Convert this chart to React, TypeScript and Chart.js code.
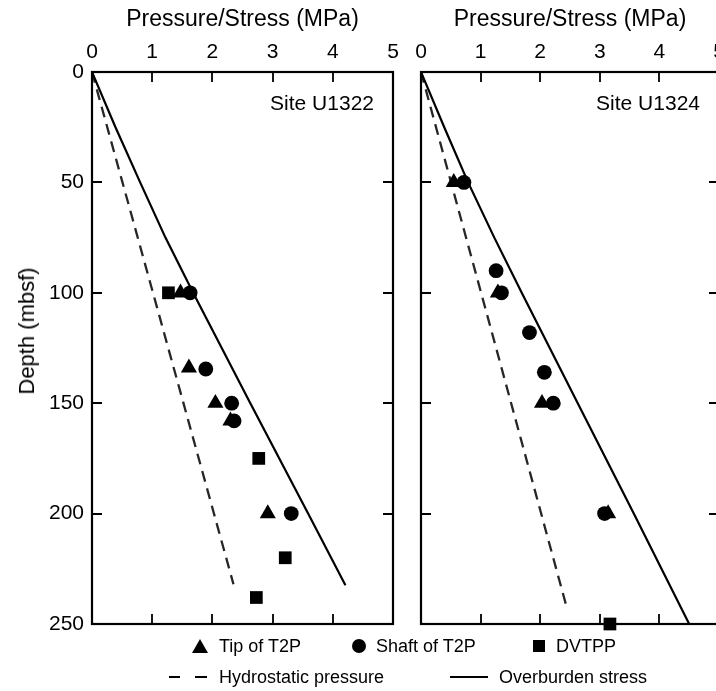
import React, { useEffect, useRef } from 'react';
import { Chart, registerables } from 'chart.js';

Chart.register(...registerables);

const FONT = '"Liberation Sans", Arial, Helvetica, sans-serif';

const pressureRange = [0, 5];
const depthRange = [0, 250];
const pressureStep = 1;
const depthStep = 50;
const xTitle = 'Pressure/Stress (MPa)';
const yTitle = 'Depth (mbsf)';

// Site U1322
const u1322TipPressure = [1.47, 1.61, 2.05, 2.3, 2.92];
const u1322TipDepth = [100, 134, 150, 158, 200];
const u1322ShaftPressure = [1.63, 1.89, 2.32, 2.36, 3.31];
const u1322ShaftDepth = [100, 134.5, 150, 158, 200];
const u1322DvtppPressure = [1.27, 2.77, 3.21, 2.73];
const u1322DvtppDepth = [100, 175, 220, 238];
const u1322HydroPressure = [0, 2.35];
const u1322HydroDepth = [0, 232];
const u1322OverPressure = [0, 0.39, 0.8, 1.22, 1.68, 2.63, 3.59, 4.21];
const u1322OverDepth = [0, 25, 50, 75, 100, 150, 200, 232.5];

// Site U1324
const u1324TipPressure = [0.55, 1.29, 2.03, 3.14];
const u1324TipDepth = [50, 100, 150, 200];
const u1324ShaftPressure = [0.72, 1.26, 1.35, 1.82, 2.07, 2.22, 3.08];
const u1324ShaftDepth = [50, 90, 100, 118, 136, 150, 200];
const u1324DvtppPressure = [3.17];
const u1324DvtppDepth = [250];
const u1324HydroPressure = [0, 2.45];
const u1324HydroDepth = [0, 243];
const u1324OverPressure = [0, 0.39, 0.79, 1.23, 1.69, 2.63, 3.57, 4.5];
const u1324OverDepth = [0, 25, 50, 75, 100, 150, 200, 250];

const legendLabels = ['Tip of T2P', 'Shaft of T2P', 'DVTPP', 'Hydrostatic pressure', 'Overburden stress'];

const toPoints = (xs: number[], ys: number[]) => xs.map((x, i) => ({ x, y: ys[i] }));

function markerSet(label: string, style: string, radius: number, xs: number[], ys: number[]) {
  return {
    label,
    data: toPoints(xs, ys),
    pointStyle: style,
    pointRadius: radius,
    pointHoverRadius: radius,
    backgroundColor: '#000',
    borderColor: '#000',
    borderWidth: 0,
    pointBorderWidth: 0,
    showLine: false,
    clip: false,
  };
}

function lineSet(label: string, xs: number[], ys: number[], dash: number[] | null) {
  return {
    label,
    data: toPoints(xs, ys),
    showLine: true,
    pointRadius: 0,
    pointHoverRadius: 0,
    borderColor: dash ? '#262626' : '#000',
    borderWidth: dash ? 2.3 : 2.2,
    borderDash: dash || [],
    borderJoinStyle: 'round',
    tension: 0,
    fill: false,
  };
}

// Box around the plot area, inward tick marks on all four sides and the site name.
const framePlugin = {
  id: 'frame',
  afterDraw(chart: any, _args: any, opts: any) {
    const { ctx, chartArea, scales } = chart;
    const { left, right, top, bottom } = chartArea;
    ctx.save();
    ctx.strokeStyle = '#000';
    ctx.lineWidth = 2.2;
    ctx.strokeRect(left, top, right - left, bottom - top);
    ctx.lineWidth = 1.8;
    ctx.beginPath();
    for (const t of scales.x.ticks) {
      const px = Math.round(scales.x.getPixelForValue(t.value));
      ctx.moveTo(px, top);
      ctx.lineTo(px, top + 10);
      ctx.moveTo(px, bottom);
      ctx.lineTo(px, bottom - 10);
    }
    for (const t of scales.y.ticks) {
      const py = Math.round(scales.y.getPixelForValue(t.value));
      ctx.moveTo(left, py);
      ctx.lineTo(left + 10, py);
      ctx.moveTo(right, py);
      ctx.lineTo(right - 10, py);
    }
    ctx.stroke();
    ctx.font = `21px ${FONT}`;
    ctx.textAlign = 'right';
    ctx.textBaseline = 'middle';
    ctx.fillStyle = '#000';
    ctx.fillText(opts.site, right - 19, top + 32);
    ctx.restore();
  },
};

function panelConfig(
  site: string,
  sets: any[],
  yWidth: number,
  rightPad: number,
  showDepthLabels: boolean
) {
  return {
    type: 'scatter',
    data: { datasets: sets },
    options: {
      responsive: false,
      animation: false,
      events: [],
      layout: { padding: { left: 0, right: rightPad, top: 0, bottom: 26 } },
      plugins: {
        legend: { display: false },
        tooltip: { enabled: false },
        frame: { site },
      },
      scales: {
        x: {
          type: 'linear',
          position: 'top',
          min: pressureRange[0],
          max: pressureRange[1],
          ticks: {
            stepSize: pressureStep,
            color: '#000',
            font: { family: FONT, size: 21 },
            padding: 7,
            maxRotation: 0,
            autoSkip: false,
          },
          grid: { display: false, drawTicks: false },
          border: { display: false },
          title: {
            display: true,
            text: xTitle,
            color: '#000',
            font: { family: FONT, size: 23 },
            padding: { top: 6, bottom: 0 },
          },
          afterFit: (s: any) => {
            s.height = 72;
          },
        },
        y: {
          type: 'linear',
          position: 'left',
          reverse: true,
          min: depthRange[0],
          max: depthRange[1],
          ticks: {
            display: showDepthLabels,
            stepSize: depthStep,
            color: '#000',
            font: { family: FONT, size: 21 },
            padding: 8,
          },
          grid: { display: false, drawTicks: false },
          border: { display: false },
          afterFit: (s: any) => {
            s.width = yWidth;
          },
        },
      },
    },
    plugins: [framePlugin],
  };
}

const Triangle = ({ cx, cy }: { cx: number; cy: number }) => (
  <svg style={{ position: 'absolute', left: cx - 8, top: cy - 8 }} width={16} height={15}>
    <polygon points="8,1 16,15 0,15" fill="#000" />
  </svg>
);

const Dot = ({ cx, cy }: { cx: number; cy: number }) => (
  <svg style={{ position: 'absolute', left: cx - 7, top: cy - 7 }} width={14} height={14}>
    <circle cx={7} cy={7} r={7} fill="#000" />
  </svg>
);

const Square = ({ cx, cy }: { cx: number; cy: number }) => (
  <div style={{ position: 'absolute', left: cx - 6, top: cy - 6, width: 12, height: 12, background: '#000' }} />
);

const Bar = ({ x1, x2, cy }: { x1: number; x2: number; cy: number }) => (
  <div style={{ position: 'absolute', left: x1, top: cy - 1.25, width: x2 - x1, height: 2.5, background: '#000' }} />
);

const Label = ({ x, cy, text }: { x: number; cy: number; text: string }) => (
  <div
    style={{
      position: 'absolute',
      left: x,
      top: cy - 11,
      height: 22,
      lineHeight: '22px',
      fontSize: 18,
      fontFamily: FONT,
      color: '#000',
      whiteSpace: 'nowrap',
    }}
  >
    {text}
  </div>
);

export default function App() {
  const leftRef = useRef<HTMLCanvasElement>(null);
  const rightRef = useRef<HTMLCanvasElement>(null);

  useEffect(() => {
    const leftSets = [
      markerSet(legendLabels[1], 'circle', 7.4, u1322ShaftPressure, u1322ShaftDepth),
      markerSet(legendLabels[0], 'triangle', 9.3, u1322TipPressure, u1322TipDepth),
      markerSet(legendLabels[2], 'rect', 9, u1322DvtppPressure, u1322DvtppDepth),
      lineSet(legendLabels[4], u1322OverPressure, u1322OverDepth, null),
      lineSet(legendLabels[3], u1322HydroPressure, u1322HydroDepth, [11, 7]),
    ];
    const rightSets = [
      markerSet(legendLabels[1], 'circle', 7.4, u1324ShaftPressure, u1324ShaftDepth),
      markerSet(legendLabels[0], 'triangle', 9.3, u1324TipPressure, u1324TipDepth),
      markerSet(legendLabels[2], 'rect', 9, u1324DvtppPressure, u1324DvtppDepth),
      lineSet(legendLabels[4], u1324OverPressure, u1324OverDepth, null),
      lineSet(legendLabels[3], u1324HydroPressure, u1324HydroDepth, [11, 7]),
    ];
    const left = new Chart(leftRef.current as any, panelConfig('Site U1322', leftSets, 92, 17, true) as any);
    const right = new Chart(rightRef.current as any, panelConfig('Site U1324', rightSets, 23, 17, false) as any);
    return () => {
      left.destroy();
      right.destroy();
    };
  }, []);

  return (
    <div
      style={{
        position: 'fixed',
        left: 0,
        top: 0,
        width: 716,
        height: 691,
        overflow: 'hidden',
        background: '#fff',
      }}
    >
      <canvas ref={leftRef} width={410} height={650} style={{ position: 'absolute', left: 0, top: 0 }} />
      <canvas ref={rightRef} width={338} height={650} style={{ position: 'absolute', left: 398, top: 0 }} />

      <div
        style={{
          position: 'absolute',
          left: 27,
          top: 331,
          transform: 'translate(-50%, -50%) rotate(-90deg)',
          fontSize: 22,
          fontFamily: FONT,
          color: '#000',
          whiteSpace: 'nowrap',
        }}
      >
        {yTitle}
      </div>

      <Triangle cx={200} cy={646} />
      <Label x={219} cy={646} text={legendLabels[0]} />
      <Dot cx={359} cy={646} />
      <Label x={376} cy={646} text={legendLabels[1]} />
      <Square cx={539} cy={646} />
      <Label x={556} cy={646} text={legendLabels[2]} />

      <Bar x1={169} x2={180} cy={677} />
      <Bar x1={195} x2={207} cy={677} />
      <Label x={219} cy={677} text={legendLabels[3]} />
      <Bar x1={450} x2={488} cy={677} />
      <Label x={499} cy={677} text={legendLabels[4]} />
    </div>
  );
}
